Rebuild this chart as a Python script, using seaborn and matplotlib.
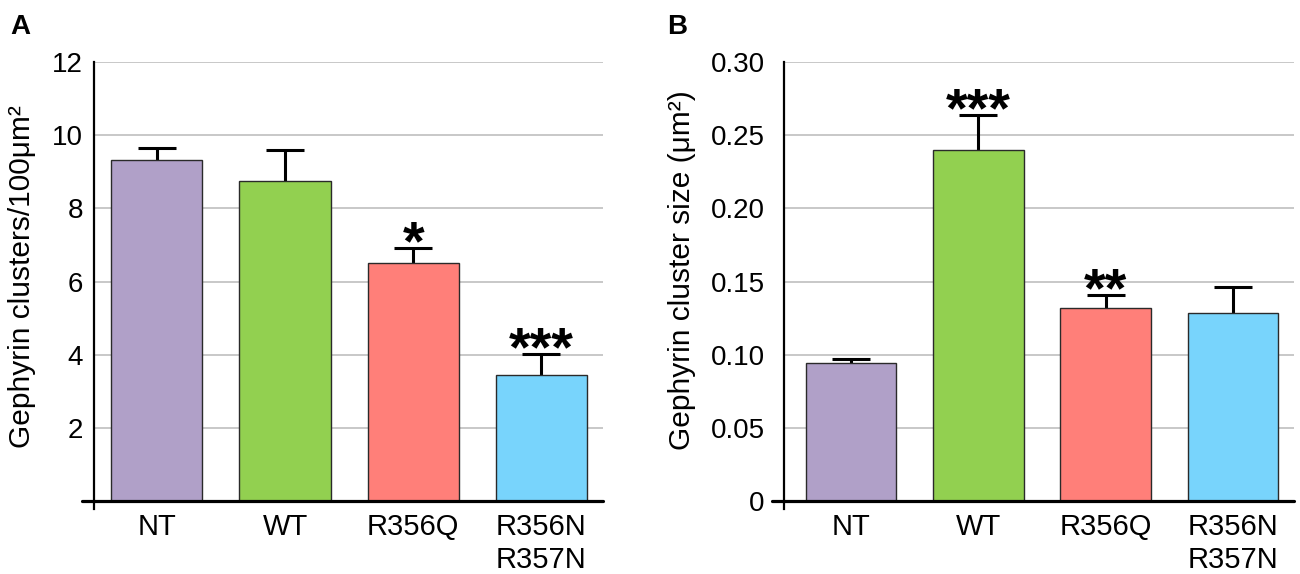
import matplotlib
matplotlib.use("Agg")
import matplotlib.pyplot as plt
import seaborn as sns

# groups and colours shared by both panels
groups = ["NT", "WT", "R356Q", "R356N\nR357N"]
bar_colors = ["#B0A0C8", "#92D050", "#FF7F79", "#78D4FC"]

# panel A: cluster density (mean, upper SEM)
density_mean = [9.33, 8.76, 6.50, 3.45]
density_sem = [0.32, 0.83, 0.41, 0.56]
density_stars = ["", "", "*", "***"]
density_ticks = [2, 4, 6, 8, 10, 12]

# panel B: cluster size
size_mean = [0.094, 0.240, 0.132, 0.1285]
size_sem = [0.0032, 0.024, 0.0087, 0.0175]
size_stars = ["", "***", "**", ""]
size_ticks = [0, 0.05, 0.10, 0.15, 0.20, 0.25, 0.30]
size_ticklabels = ["0", "0.05", "0.10", "0.15", "0.20", "0.25", "0.30"]

sns.set_style("white")
plt.rcParams["font.family"] = ["Liberation Sans", "DejaVu Sans"]
for key in ["text.color", "axes.labelcolor", "xtick.color", "ytick.color"]:
    plt.rcParams[key] = "black"


def draw_panel(ax, means, sems, stars, ylow, yticks, yticklabels, ylabel,
               xlim, tick_pad, label_xy):
    sns.barplot(x=groups, y=means, hue=groups, palette=bar_colors,
                saturation=1, legend=False, width=0.71, errorbar=None,
                edgecolor="#2a2a2a", linewidth=1.0, ax=ax)
    # symmetric bars drawn under the boxes, so only the upper half shows
    ax.errorbar(range(len(groups)), means, yerr=sems, fmt="none",
                ecolor="black", elinewidth=2.2, capsize=14, capthick=2.2,
                zorder=0.9)
    for i, s in enumerate(stars):
        if s:
            ax.annotate(s, xy=(i, means[i] + sems[i]), xytext=(0, -8),
                        textcoords="offset points", ha="center",
                        va="baseline", fontsize=40, fontweight="bold")

    ax.set_ylim(ylow, yticks[-1])
    ax.set_xlim(*xlim)
    ax.set_yticks(yticks)
    ax.set_yticklabels(yticklabels)
    ax.set_axisbelow(True)
    ax.yaxis.grid(True, color="#c4c4c4", lw=1.3)
    ax.xaxis.grid(False)

    for side in ["top", "right", "bottom"]:
        ax.spines[side].set_visible(False)
    ax.spines["left"].set_linewidth(1.6)
    ax.spines["left"].set_color("black")
    ax.axhline(0, xmin=-0.024, xmax=1.0, color="black", lw=2.3,
               clip_on=False, zorder=4)

    ax.tick_params(axis="both", length=0)
    ax.tick_params(axis="y", pad=tick_pad, labelsize=20)
    ax.tick_params(axis="x", pad=3, labelsize=21)
    ax.set_xlabel("")
    ax.set_ylabel(ylabel, fontsize=21.5)
    ax.yaxis.set_label_coords(*label_xy)


fig = plt.figure(figsize=(13, 5.74), dpi=100)
ax_a = fig.add_axes([0.0723, 0.1132, 0.3915, 0.7787])
ax_b = fig.add_axes([0.6031, 0.1132, 0.3920, 0.7787])

draw_panel(ax_a, density_mean, density_sem, density_stars, -0.22,
           density_ticks, [str(t) for t in density_ticks],
           "Gephyrin clusters/100μm²", (-0.49, 3.48), 8, (-0.113, 0.52))
draw_panel(ax_b, size_mean, size_sem, size_stars, -0.0055,
           size_ticks, size_ticklabels,
           "Gephyrin cluster size (μm²)", (-0.53, 3.48), 14, (-0.172, 0.535))

fig.text(10 / 1300, 1 - 14 / 574, "A", fontsize=20, fontweight="bold",
         va="top", ha="left")
fig.text(667 / 1300, 1 - 14 / 574, "B", fontsize=20, fontweight="bold",
         va="top", ha="left")

fig.savefig("out.png", dpi=100)
